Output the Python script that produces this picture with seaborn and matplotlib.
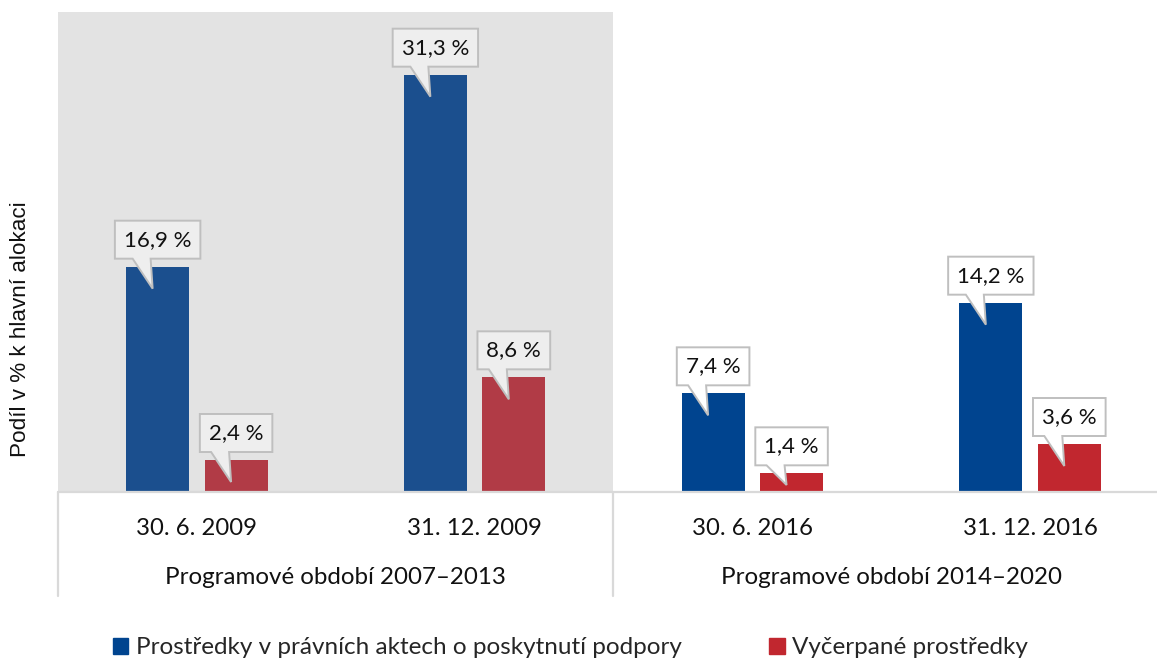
import pandas as pd
import matplotlib.pyplot as plt
import matplotlib.transforms as mtransforms
from matplotlib.patches import Polygon, Patch
import seaborn as sns

sns.set_theme(style='white')
plt.rcParams['font.family'] = ['Lato', 'DejaVu Sans']

# data
dates = ["30. 6. 2009", "31. 12. 2009", "30. 6. 2016", "31. 12. 2016"]
periods = ["Programové období 2007–2013", "Programové období 2014–2020"]
date_period = [periods[0], periods[0], periods[1], periods[1]]
series = ["Prostředky v právních aktech o poskytnutí podpory", "Vyčerpané prostředky"]
pravni_akty = [16.9, 31.3, 7.4, 14.2]
vycerpano = [2.4, 8.6, 1.4, 3.6]

colors = {periods[0]: ['#1B4F8E', '#B13B46'],
          periods[1]: ['#00448F', '#C1272F']}

rows = []
for d, p, a, b in zip(dates, date_period, pravni_akty, vycerpano):
    rows.append({'date': d, 'period': p, 'series': series[0], 'value': a})
    rows.append({'date': d, 'period': p, 'series': series[1], 'value': b})
df = pd.DataFrame(rows)

fig = plt.figure(figsize=(11.57, 6.61), dpi=100)
ax = fig.add_axes([58 / 1157, 1 - 492 / 661, 1 - 58 / 1157, 480 / 661])
ax.set_facecolor('white')
ax.axvspan(-0.5, 1.5, color='#E3E3E3', lw=0, zorder=0)

for p in periods:
    sub = df[df['period'] == p]
    sns.barplot(data=sub, x='date', y='value', hue='series', order=dates,
                hue_order=series, palette=colors[p], width=0.565, gap=0.197,
                saturation=1, linewidth=0, legend=False, ax=ax, zorder=2)

ax.set_xlim(-0.5, 3.457)
ax.set_ylim(0, 36)
ax.set_yticks([])
ax.set_xlabel('')
ax.set_ylabel('')
for s in ax.spines.values():
    s.set_visible(False)
ax.tick_params(axis='x', length=0, pad=19, labelsize=17.2, labelcolor='#111111')

line_col = '#D9D9D9'
ax.axhline(0, color=line_col, lw=1.6, zorder=3, clip_on=False)
for xv in [-0.5, 1.5]:
    ax.plot([xv, xv], [0, -7.8], color=line_col, lw=1.6, clip_on=False)

for i, p in enumerate(periods):
    ax.annotate(p, xy=(0.5 + 2 * i, 0), xycoords='data', xytext=(0, -86),
                textcoords='offset pixels', ha='center', va='center',
                fontsize=17.4, color='#111111', annotation_clip=False)

fig.text(21 / 1157, 1 - 329 / 661, "Podíl v % k hlavní alokaci", rotation=90,
         ha='center', va='center', fontsize=16.2, family='Liberation Sans', color='#111111')

# callout labels
texts = []
for cont in ax.containers:
    for bar in cont:
        xc = bar.get_x() + bar.get_width() / 2
        h = bar.get_height()
        lab = f"{h:.1f}".replace('.', ',') + " %"
        t = ax.annotate(lab, xy=(xc, h), xytext=(0, 27), textcoords='offset pixels',
                        ha='center', va='center', fontsize=16, color='#111111', zorder=6)
        texts.append((t, xc, h))

fig.canvas.draw()
for t, xc, h in texts:
    tw = t.get_window_extent().width
    hw = tw / 2 + 9
    B, T = 8, 46
    bar_px = ax.transData.transform((0, h))[1] - ax.transData.transform((0, 0))[1]
    tip = min(22, bar_px - 7)
    verts = [(-hw, B), (-25, B), (-5, -tip), (-7, B), (hw, B), (hw, T), (-hw, T)]
    gray_zone = xc < 1.5
    trans = mtransforms.IdentityTransform() + mtransforms.ScaledTranslation(xc, h, ax.transData)
    poly = Polygon(verts, closed=True, transform=trans,
                   facecolor='#EEEEEE' if gray_zone else 'white',
                   edgecolor='#BFBFBF', lw=1.4, zorder=5, clip_on=False)
    ax.add_patch(poly)

handles = [Patch(color=colors[periods[1]][0]), Patch(color=colors[periods[1]][1])]
fig.legend(handles, series, loc='center', bbox_to_anchor=(0.493, 1 - 648 / 661),
           ncol=2, frameon=False, fontsize=17.5, handlelength=0.65, handleheight=0.65,
           handletextpad=0.3, columnspacing=3.6)

fig.savefig('out.png', dpi=100)
